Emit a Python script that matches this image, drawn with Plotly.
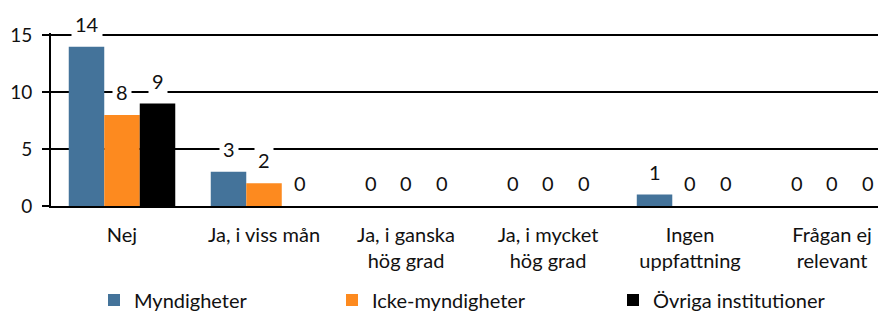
import plotly.graph_objects as go

categories = ["Nej", "Ja, i viss mån", "Ja, i ganska<br>hög grad", "Ja, i mycket<br>hög grad",
              "Ingen<br>uppfattning", "Frågan ej<br>relevant"]
series_names = ["Myndigheter", "Icke-myndigheter", "Övriga institutioner"]
myndigheter = [14, 3, 0, 0, 1, 0]
icke_myndigheter = [8, 2, 0, 0, 0, 0]
ovriga = [9, 0, 0, 0, 0, 0]
colors = ["#44739a", "#fd8a1f", "#000000"]
yticks = [0, 5, 10, 15]

FONT = "Lato"
FS = 20
values = [myndigheter, icke_myndigheter, ovriga]
legends = ["legend", "legend2", "legend3"]

fig = go.Figure()
for name, vals, col, lg in zip(series_names, values, colors, legends):
    fig.add_trace(go.Bar(x=categories, y=vals, name=name, marker_color=col,
                         marker_line_width=0, legend=lg))

annotations = []
for j, vals in enumerate(values):
    off = (j - 1) * 0.25
    for i, v in enumerate(vals):
        annotations.append(dict(x=i + off, y=v, xref="x", yref="y", text=str(v),
                                showarrow=False, yanchor="middle", yshift=23,
                                bgcolor="white", borderpad=3,
                                font=dict(family=FONT, size=FS, color="#111")))

W, H = 878, 312
leg_common = dict(orientation="h", yanchor="middle", xanchor="left",
                  xref="container", yref="container", y=20/H,
                  font=dict(size=FS), bgcolor="rgba(0,0,0,0)")

fig.update_layout(
    width=W, height=H,
    margin=dict(l=43, r=0, t=25, b=114, autoexpand=False),
    plot_bgcolor="white", paper_bgcolor="white",
    barmode="group", bargap=0.25, bargroupgap=0,
    font=dict(family=FONT, size=FS, color="#111"),
    annotations=annotations,
    xaxis=dict(range=[-0.5, 5.38], showgrid=False, showline=True, linecolor="black",
               linewidth=2, ticks="", tickfont=dict(size=FS), ticklabelstandoff=10,
               automargin=False),
    yaxis=dict(range=[0, 15.2], tickvals=yticks, showgrid=True, gridcolor="black",
               gridwidth=2, showline=True, linecolor="black", linewidth=2,
               ticks="outside", ticklen=7, tickwidth=2, tickcolor="black",
               tickfont=dict(size=19), ticklabelstandoff=6, zeroline=False,
               automargin=False),
    legend=dict(leg_common, x=86/W),
    legend2=dict(leg_common, x=324/W),
    legend3=dict(leg_common, x=605/W),
    showlegend=True,
)
fig.write_html("out.html")
